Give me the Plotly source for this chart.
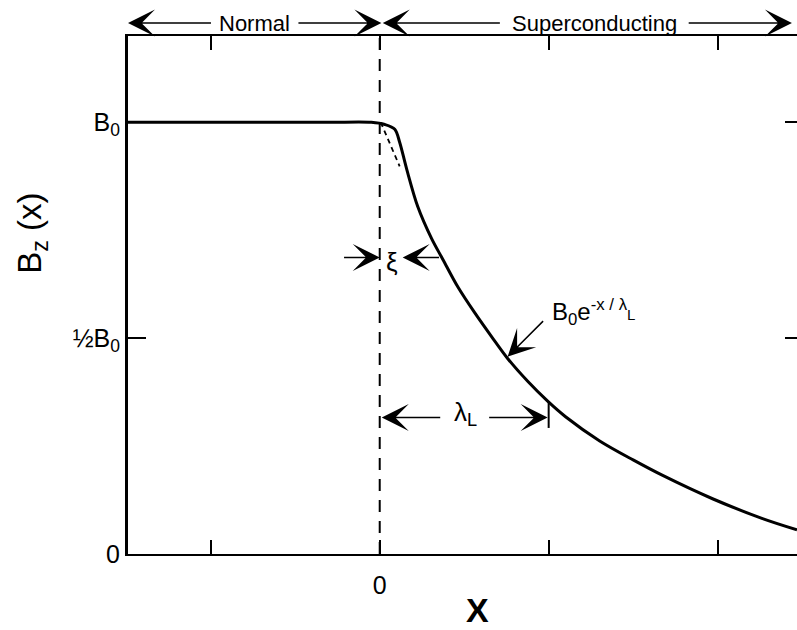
import plotly.graph_objects as go

# ---- data (x in units of lambda_L, B in units of B0) ----
x_curve = [-1.49, -0.8, -0.3, -0.05, 0.030, 0.089, 0.118, 0.160, 0.225, 0.308, 0.373,
           0.462, 0.562, 0.663, 0.757, 0.876, 0.994, 1.100, 1.302, 1.500, 1.675,
           1.970, 2.266, 2.47]
b_curve = [1.0, 1.0, 1.0, 1.0, 0.995, 0.984, 0.954, 0.891, 0.805, 0.730, 0.683,
           0.619, 0.559, 0.503, 0.453, 0.400, 0.354, 0.318, 0.262, 0.218, 0.182,
           0.128, 0.082, 0.056]
x_dash = [0.006, 0.118]
b_dash = [1.0, 0.898]
x_tick_vals = [-1, 0, 1, 2]
x_tick_text = ["", "0", "", ""]
y_tick_vals = [0, 0.5, 1]
y_tick_text = ["0", "½B<sub>0</sub>", "B<sub>0</sub>"]
lambda_L = 1.0
xi = 0.136
x_range = [-1.49, 2.47]
y_range = [0, 1.2]

FONT = "Liberation Sans, Arial, Helvetica, sans-serif"

fig = go.Figure()
fig.add_trace(go.Scatter(x=[0, 0], y=y_range, mode="lines",
                         line=dict(color="black", width=2, dash="12px,9px"),
                         hoverinfo="skip", showlegend=False))
fig.add_trace(go.Scatter(x=x_curve, y=b_curve, mode="lines",
                         line=dict(color="black", width=3, shape="spline", smoothing=0.9),
                         showlegend=False))
fig.add_trace(go.Scatter(x=x_dash, y=b_dash, mode="lines",
                         line=dict(color="black", width=1.8, dash="5px,4px"),
                         showlegend=False))
fig.add_trace(go.Scatter(x=[None], y=[None], yaxis="y2", showlegend=False))

fig.update_layout(
    width=797, height=630,
    margin=dict(l=128, r=0, t=36, b=76),
    plot_bgcolor="white", paper_bgcolor="white",
    font=dict(family=FONT, color="black"),
    showlegend=False,
    xaxis=dict(range=x_range, tickvals=x_tick_vals, ticktext=x_tick_text,
               ticks="inside", ticklen=14, tickwidth=2, tickcolor="black",
               showline=True, linewidth=2, linecolor="black", mirror="ticks",
               showgrid=False, zeroline=False, tickfont=dict(size=25),
               ticklabelstandoff=8),
    yaxis=dict(range=y_range, tickvals=y_tick_vals, ticktext=y_tick_text,
               ticks="inside", ticklen=18, tickwidth=2, tickcolor="black",
               showline=True, linewidth=3, linecolor="black",
               showgrid=False, zeroline=False, tickfont=dict(size=25)),
    yaxis2=dict(range=y_range, overlaying="y", side="right", tickvals=[0.5, 1],
                ticks="inside", ticklen=12, tickwidth=2, tickcolor="black",
                showticklabels=False, showline=False, showgrid=False, zeroline=False),
)

HEAD = dict(arrowhead=3, arrowsize=3.0, arrowwidth=1.5, arrowcolor="black",
            standoff=0, startstandoff=0)

ann = []
def arrow(tip_x, tail_x, y, paper=False):
    d = dict(x=tip_x, ax=tail_x, xref="x", axref="x", text="", showarrow=True, **HEAD)
    if paper:
        d.update(y=y, yref="paper", ay=0, ayref="pixel")
    else:
        d.update(y=y, yref="y", ay=y, ayref="y")
    ann.append(d)

# top region labels
ytop = 1.025
arrow(-1.49, -0.99, ytop, True)
arrow(0.01, -0.49, ytop, True)
arrow(0.018, 0.72, ytop, True)
arrow(2.44, 1.82, ytop, True)
ann.append(dict(x=-0.74, y=ytop, xref="x", yref="paper", text="Normal",
                xanchor="center", yanchor="middle",
                showarrow=False, font=dict(size=22)))
ann.append(dict(x=1.27, y=ytop, xref="x", yref="paper", text="Superconducting",
                xanchor="center", yanchor="middle",
                showarrow=False, font=dict(size=22)))

# xi
arrow(0.0, -0.22, 0.687)
arrow(xi, 0.36, 0.687)
ann.append(dict(x=0.071, y=0.677, xref="x", yref="y", text="ξ",
                showarrow=False, font=dict(size=26)))

# lambda_L
arrow(0.012, 0.367, 0.316)
arrow(lambda_L - 0.006, 0.639, 0.316)
ann.append(dict(x=0.509, y=0.325, xref="x", yref="y", text="λ<sub>L</sub>",
                showarrow=False, font=dict(size=26)))

# curve label
ann.append(dict(x=0.757, y=0.457, ax=0.976, ay=0.543, xref="x", yref="y",
                axref="x", ayref="y", text="", showarrow=True, **HEAD))
ann.append(dict(x=1.010, y=0.56, xref="x", yref="y", xanchor="left", yanchor="middle",
                text="B<sub>0</sub>e<sup>-x / λ</sup>"
                     "<span style='font-size:15px;fill:black;color:black'>L</span>",
                showarrow=False, font=dict(size=24)))

# axis titles
ann.append(dict(x=0.522, y=-0.108, xref="paper", yref="paper", text="<b>X</b>",
                xanchor="center", yanchor="middle",
                showarrow=False, font=dict(size=34)))
ann.append(dict(x=-0.1435, y=0.62, xref="paper", yref="paper", text="B<sub>z</sub> (x)",
                xanchor="center", yanchor="middle",
                textangle=-90, showarrow=False, font=dict(size=33)))

fig.update_layout(annotations=ann)

fig.add_shape(type="line", x0=lambda_L, x1=lambda_L, y0=0.292, y1=0.353,
              xref="x", yref="y", line=dict(color="black", width=2))

fig.write_html("out.html")
